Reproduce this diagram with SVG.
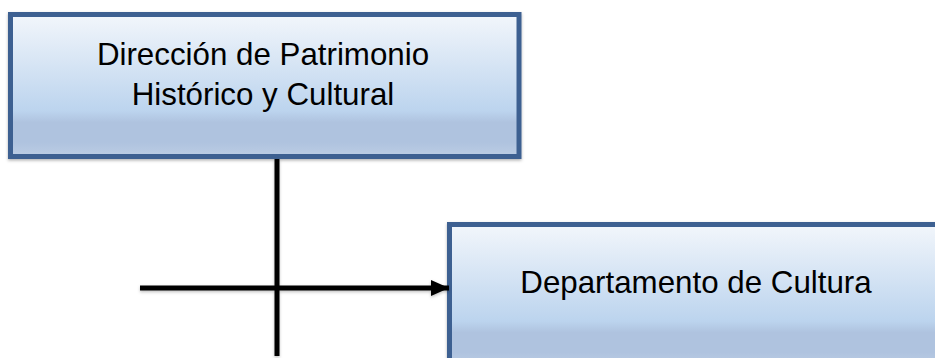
<svg xmlns="http://www.w3.org/2000/svg" width="935" height="358" viewBox="0 0 935 358">
<defs>
<linearGradient id="g" x1="0" y1="0" x2="0" y2="1">
<stop offset="0" stop-color="#F2F6FB"/>
<stop offset="0.68" stop-color="#BCD4EE"/>
<stop offset="0.76" stop-color="#AFC3DF"/>
<stop offset="0.9" stop-color="#AFC3DF"/>
<stop offset="1" stop-color="#BCCDE4"/>
</linearGradient>
<filter id="sh" x="-10%" y="-10%" width="120%" height="130%">
<feDropShadow dx="0" dy="1.5" stdDeviation="1.5" flood-color="#000" flood-opacity="0.3"/>
</filter>
<filter id="lsh" filterUnits="userSpaceOnUse" x="0" y="0" width="935" height="358">
<feDropShadow dx="0" dy="1.5" stdDeviation="1.5" flood-color="#000" flood-opacity="0.25"/>
</filter>
<marker id="ah" viewBox="0 0 10 10" refX="10" refY="5" markerWidth="3.6" markerHeight="3.2" markerUnits="strokeWidth" orient="auto" preserveAspectRatio="none">
<path d="M0,0 L10,5 L0,10 z" fill="#000"/>
</marker>
<style>
.box{fill:url(#g);stroke:#3E6191;stroke-width:5;filter:url(#sh)}
.t{font-family:"Liberation Sans",Arial,sans-serif;font-size:31.3px;fill:#000;text-anchor:middle}
.c{stroke:#000;stroke-width:5;fill:none}
</style>
</defs>
<g id="node1">
<rect class="box" x="10.5" y="14.5" width="508.5" height="142"/>
<text class="t" x="263" y="65">Dirección de Patrimonio</text>
<text class="t" x="263" y="105">Histórico y Cultural</text>
</g>
<g id="node2">
<rect class="box" x="449.5" y="224.5" width="500" height="142"/>
<text class="t" x="696" y="293">Departamento de Cultura</text>
</g>
<g id="connectors" filter="url(#lsh)">
<line class="c" x1="277" y1="159" x2="277" y2="356"/>
<line class="c" x1="140" y1="288" x2="449" y2="288" marker-end="url(#ah)"/>
</g>
</svg>
